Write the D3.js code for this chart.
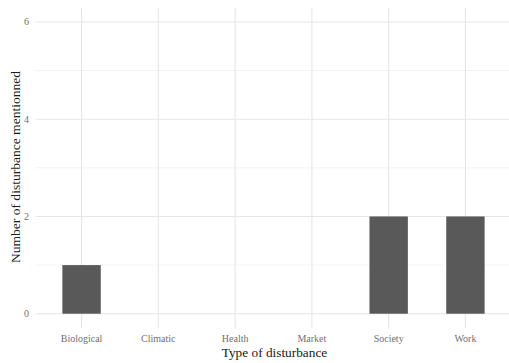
<!DOCTYPE html>
<html><head><meta charset="utf-8">
<script src="https://cdn.jsdelivr.net/npm/d3@7"></script>
<style>body{margin:0;background:#fff}svg{display:block}</style>
</head><body>
<script>
const categories = ["Biological","Climatic","Health","Market","Society","Work"];
const counts = [1,0,0,0,2,2];
const yTicks = [0,2,4,6];
const yMinor = [1,3,5];

const W = 509, H = 363;
const panel = {left: 35.5, right: 511.5, top: 7.4, bottom: 328.3};
const svg = d3.select("body").append("svg").attr("width", W).attr("height", H);

const x = d3.scalePoint().domain(categories).range([panel.left, panel.right]).padding(0.6);
const y = d3.scaleLinear().domain([-0.3, 6.3]).range([panel.bottom, panel.top]);
const bw = x.step() * 0.5;

const g = svg.append("g");
g.selectAll(".ymin").data(yMinor).enter().append("line")
  .attr("x1", panel.left).attr("x2", panel.right)
  .attr("y1", d => y(d)).attr("y2", d => y(d))
  .attr("stroke", "#ebebeb").attr("stroke-width", 0.6);
g.selectAll(".ymaj").data(yTicks).enter().append("line")
  .attr("x1", panel.left).attr("x2", panel.right)
  .attr("y1", d => y(d)).attr("y2", d => y(d))
  .attr("stroke", "#e6e6e6").attr("stroke-width", 1.1);
g.selectAll(".xmaj").data(categories).enter().append("line")
  .attr("x1", d => x(d)).attr("x2", d => x(d))
  .attr("y1", panel.top).attr("y2", panel.bottom)
  .attr("stroke", "#e6e6e6").attr("stroke-width", 1.1);

g.selectAll(".bar").data(categories.map((c,i)=>({c, v: counts[i]})).filter(d=>d.v>0)).enter().append("rect")
  .attr("x", d => x(d.c) - bw/2).attr("width", bw)
  .attr("y", d => y(d.v)).attr("height", d => y(0) - y(d.v))
  .attr("fill", "#595959");

const font = "'Liberation Serif','Times New Roman',serif";
svg.selectAll(".yt").data(yTicks).enter().append("text")
  .attr("x", 29).attr("y", d => y(d)).attr("dy", "0.35em")
  .attr("text-anchor", "end").attr("font-family", font).attr("font-size", 10)
  .attr("fill", "#707070").text(d => d);
svg.selectAll(".xt").data(categories).enter().append("text")
  .attr("x", d => x(d)).attr("y", 338).attr("dy", "0.35em")
  .attr("text-anchor", "middle").attr("font-family", font).attr("font-size", 10)
  .attr("fill", "#707070").text(d => d);
svg.append("text").attr("x", 274.5).attr("y", 352).attr("dy", "0.35em")
  .attr("text-anchor", "middle").attr("font-family", font).attr("font-size", 13.3)
  .attr("fill", "#1a1a1a").text("Type of disturbance");
svg.append("text").attr("transform", "translate(15.5,167) rotate(-90)")
  .attr("dy", "0.35em").attr("text-anchor", "middle").attr("font-family", font).attr("font-size", 13.5)
  .attr("textLength", 192).attr("lengthAdjust", "spacingAndGlyphs")
  .attr("fill", "#1a1a1a").text("Number of disturbance mentionned");
</script>
</body></html>
